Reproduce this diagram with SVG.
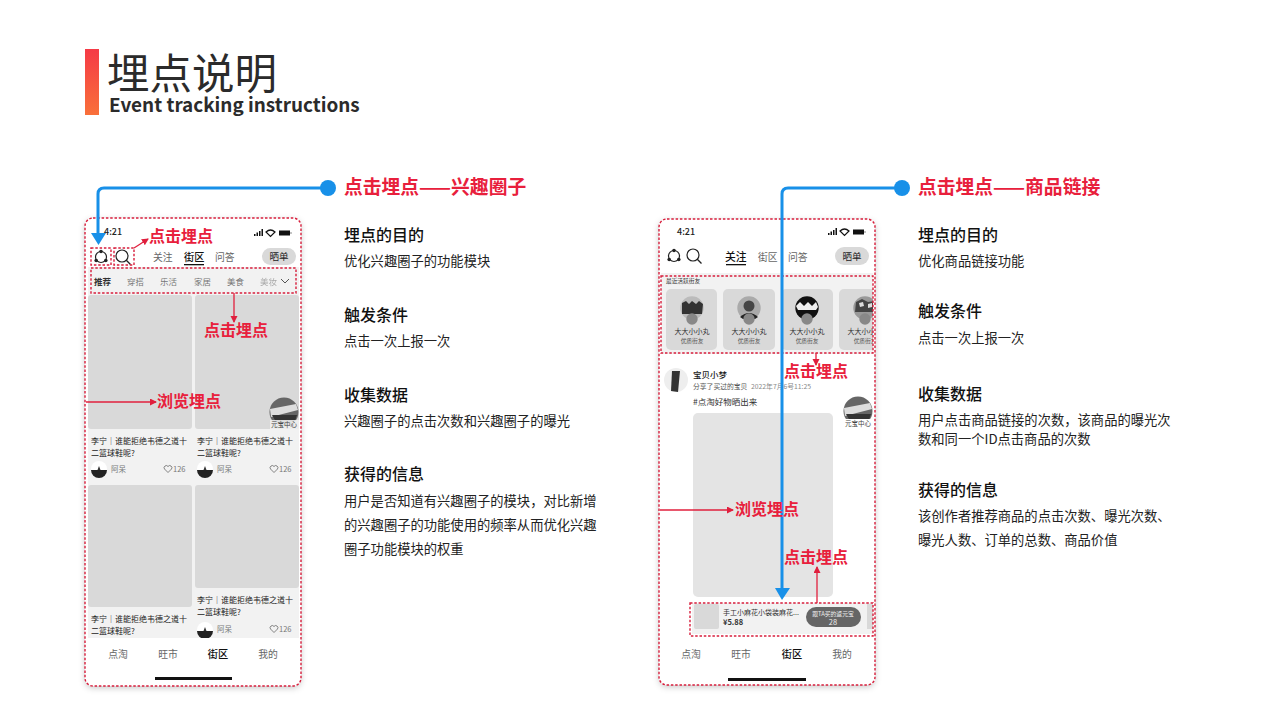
<svg xmlns="http://www.w3.org/2000/svg" width="1280" height="720" viewBox="0 0 1280 720">
<defs>
<linearGradient id="bar" x1="0" y1="0" x2="0" y2="1"><stop offset="0" stop-color="#f53a46"/><stop offset="1" stop-color="#f9703a"/></linearGradient>
<filter id="sh" x="-10%" y="-10%" width="120%" height="120%"><feDropShadow dx="0" dy="2" stdDeviation="3" flood-color="#000" flood-opacity=".22"/></filter>
<clipPath id="fc"><rect x="661" y="276" width="212" height="77"/></clipPath>
<marker id="ra" markerWidth="8" markerHeight="8" refX="6" refY="3.500" orient="auto" markerUnits="userSpaceOnUse"><path d="M0 0L7 3.500L0 7Z" fill="#e01f3d"/></marker>
<g id="ava"><circle r="8" fill="#fff"/><path d="M-8 1A8 8 0 0 0 8 1Z" fill="#222"/><path d="M-1.500 1L0 -3L1.500 1Z" fill="#333"/></g>
<g id="pic"><circle r="14.500" fill="#666"/><path d="M-14 -3L12 -8L14 -2L-13 5Z" fill="#ddd"/><path d="M-12 3L13 3L11 9L-8 10Z" fill="#333"/></g>
<g id="f1"><circle r="11.700" fill="#bbb"/><path d="M-10 -5L-6 -7L-3 -4L0 -7L4 -4L7 -7L11 -4L10 6L-10 6Z" fill="#333"/></g>
<g id="f2"><circle r="11.700" fill="#aaa"/><circle cy="-2" r="5.500" fill="#444"/><path d="M-9 9Q0 1 9 9L6 11L-6 11Z" fill="#222"/></g>
<g id="f3"><circle r="11.700" fill="#111"/><path d="M-11 -2L-7 -6L-3 -2L1 -6L5 -2L9 -6L11 -1L9 2L-9 2Z" fill="#eee"/></g>
<g id="f4"><circle r="11.700" fill="#999"/><path d="M-9 -6L-3 -9L3 -6L9 -7L10 4L-10 4Z" fill="#444"/><path d="M-6 -5L-2 -6L-1 -2L-5 -1ZM3 -4L7 -5L7 -1L3 0Z" fill="#ddd"/></g>
<g id="sig"><path d="M0 5h1.500v2H0zM2.500 3.500H4v3.500H2.500zM5 2h1.500v5H5zM7.500 0H9v7H7.500z" fill="#111"/><path d="M12 3Q16.500 -1 21 3L16.500 7.500Z" fill="none" stroke="#111" stroke-width="1.200"/><rect x="25" y="1.500" width="11" height="5" fill="#111"/><rect x="36.500" y="3" width="1" height="2" fill="#888"/></g>
<g id="hub"><circle r="5.500" fill="none" stroke="#222" stroke-width="1.200"/><circle cy="-5.500" r="1.800" fill="#222"/><circle cx="-4.800" cy="3.500" r="1.800" fill="#222"/><circle cx="4.800" cy="3.500" r="1.800" fill="#222"/></g>
<g id="mag"><circle cx="-1" cy="-1" r="6" fill="none" stroke="#222" stroke-width="1.200"/><path d="M3.300 3.300L7.500 7.500" stroke="#222" stroke-width="1.300"/></g>
<path id="heart" d="M0 3.500L-3.500 0A2 2 0 0 1 0 -2.500A2 2 0 0 1 3.500 0Z" fill="none" stroke="#666" stroke-width=".8"/>
</defs>
<style>
text{font-family:"Noto Sans CJK SC","Noto Sans",sans-serif}
.h{font-size:16px;font-weight:500;fill:#111}
.b{font-size:13.300px;fill:#222}
.rt{font-size:18.800px;font-weight:700;fill:#e8203c}
.rl{font-size:16px;font-weight:700;fill:#e8203c}
.ph{fill:#fff;filter:url(#sh)}
.dash{fill:none;stroke:#d81e3c;stroke-width:1.400;stroke-dasharray:2.500 1.800}
.g{fill:#d9d9d9}
.lg{fill:#e4e4e4}
.t{font-size:9.800px;fill:#666}
.tb{font-size:10.200px;fill:#111;font-weight:500}
.c{font-size:8.500px;fill:#777}
.ct{font-size:8px;fill:#222}
.s{font-size:7.500px;fill:#777}
.fn{font-size:7px;fill:#333;text-anchor:middle}
.fq{font-size:5.700px;fill:#555;text-anchor:middle}
.red{stroke:#e01f3d;stroke-width:1.300;fill:none;marker-end:url(#ra)}
.blue{stroke:#1890e8;stroke-width:3;fill:none}
.m{text-anchor:middle}
</style>
<rect width="1280" height="720" fill="#fff"/>
<g id="title">
<rect x="85" y="49" width="14" height="66" fill="url(#bar)"/>
<text x="107" y="89" font-size="42.500" fill="#2b2b2b">埋点说明</text>
<text x="109" y="112" font-size="18.900" font-weight="700" fill="#2b2b2b">Event tracking instructions</text>
</g>

<g id="phone-left">
<rect class="ph" x="85" y="218" width="216" height="468" rx="8"/>
<rect x="88" y="267" width="211" height="372" fill="#f2f2f2"/>
<text x="104" y="235" font-size="9" font-weight="500" fill="#222">4:21</text>
<use href="#sig" x="254" y="229"/>
<use href="#hub" x="101" y="257"/><use href="#mag" x="123" y="257"/>
<text class="t" x="153" y="261">关注</text><text class="tb" x="184" y="261">街区</text><text class="t" x="215" y="261">问答</text>
<rect x="184" y="264" width="20" height="1.300" fill="#111"/>
<rect class="g" x="262" y="248" width="34" height="17" rx="8.500"/><text x="279" y="260" font-size="9.500" class="m" fill="#222">晒单</text>
<text x="94" y="285" font-size="8.500" font-weight="700" fill="#333">推荐</text>
<text class="c" x="127" y="285">穿搭</text><text class="c" x="160" y="285">乐活</text><text class="c" x="194" y="285">家居</text><text class="c" x="227" y="285">美食</text><text class="c" x="260" y="285" opacity=".6">美妆</text>
<path d="M281 279L285 283L289 279" fill="none" stroke="#555"/>
<rect class="g" x="88" y="295" width="104" height="134" rx="3"/>
<rect class="g" x="195" y="295" width="104" height="134" rx="3"/>
<use href="#pic" x="284" y="412"/><rect x="270" y="420" width="29" height="9" fill="#eee" opacity=".9"/><text x="284" y="427" font-size="6.500" class="m" fill="#444">元宝中心</text>
<text class="ct" x="91" y="444">李宁｜谁能拒绝韦德之道十</text><text class="ct" x="91" y="456">二篮球鞋呢?</text>
<text class="ct" x="197" y="444">李宁｜谁能拒绝韦德之道十</text><text class="ct" x="197" y="456">二篮球鞋呢?</text>
<use href="#ava" x="99" y="469"/><text class="s" x="111" y="472">阿呆</text><use href="#heart" x="168" y="469"/><text class="s" x="173" y="472">126</text>
<use href="#ava" x="205" y="469"/><text class="s" x="217" y="472">阿呆</text><use href="#heart" x="274" y="469"/><text class="s" x="279" y="472">126</text>
<rect class="g" x="88" y="485" width="104" height="122" rx="3"/>
<rect class="g" x="195" y="485" width="104" height="103" rx="3"/>
<text class="ct" x="197" y="603">李宁｜谁能拒绝韦德之道十</text><text class="ct" x="197" y="615">二篮球鞋呢?</text>
<text class="ct" x="91" y="622">李宁｜谁能拒绝韦德之道十</text><text class="ct" x="91" y="634">二篮球鞋呢?</text>
<use href="#ava" x="205" y="630"/><text class="s" x="217" y="632">阿呆</text><use href="#heart" x="274" y="629"/><text class="s" x="279" y="632">126</text>
<rect x="86" y="638" width="214" height="36" fill="#fff"/>
<text class="t m" x="118" y="658">点淘</text><text class="t m" x="168" y="658">旺市</text><text class="tb m" x="218" y="658">街区</text><text class="t m" x="268" y="658">我的</text>
<rect x="155" y="677" width="77" height="3" fill="#111"/>
<rect class="dash" x="85" y="218" width="216" height="468" rx="8"/>
<rect class="dash" x="91" y="248" width="20" height="17"/>
<rect class="dash" x="114" y="248" width="20" height="17"/>
<rect class="dash" x="91" y="268" width="205" height="25"/>
</g>

<g id="phone-right">
<rect class="ph" x="659" y="219" width="216" height="466" rx="8"/>
<rect x="661" y="273" width="212" height="81" fill="#f2f2f2"/>
<text x="677" y="235" font-size="9" font-weight="500" fill="#222">4:21</text>
<use href="#sig" x="828" y="228"/>
<use href="#hub" x="674" y="256"/><use href="#mag" x="694" y="256"/>
<text class="tb" x="725" y="261" style="font-size:10.800px">关注</text><text class="t" x="758" y="261">街区</text><text class="t" x="788" y="261">问答</text>
<rect x="726" y="264" width="20" height="1.300" fill="#111"/>
<rect class="g" x="835" y="247" width="34" height="18" rx="9"/><text x="852" y="260" font-size="9.500" class="m" fill="#222">晒单</text>
<text x="666" y="283" font-size="5.700" fill="#333">最近活跃街友</text>
<g id="friends" clip-path="url(#fc)">
<rect class="g" x="666" y="289" width="51" height="61" rx="5"/><use href="#f1" x="692" y="308"/><circle cx="692" cy="319" r="5.700" fill="#888"/><text x="692" y="334" class="fn">大大小小丸</text><text x="692" y="343" class="fq">优质街友</text>
<rect class="g" x="723" y="289" width="52" height="61" rx="5"/><use href="#f2" x="749" y="308"/><circle cx="749" cy="319" r="5.700" fill="#888"/><text x="749" y="334" class="fn">大大小小丸</text><text x="749" y="343" class="fq">优质街友</text>
<rect class="g" x="781" y="289" width="52" height="61" rx="5"/><use href="#f3" x="807" y="308"/><circle cx="807" cy="319" r="5.700" fill="#888"/><text x="807" y="334" class="fn">大大小小丸</text><text x="807" y="343" class="fq">优质街友</text>
<rect class="g" x="839" y="289" width="52" height="61" rx="5"/><use href="#f4" x="865" y="308"/><circle cx="865" cy="319" r="5.700" fill="#888"/><text x="865" y="334" class="fn">大大小小丸</text><text x="865" y="343" class="fq">优质街友</text>
</g>
<circle cx="676" cy="380" r="12" fill="#eee"/><path d="M672 371L680 371L678 392L671 391Z" fill="#333"/>
<text x="693" y="378" font-size="8.500" font-weight="500" fill="#222">宝贝小梦</text>
<text x="693" y="389" font-size="6.800" fill="#555">分享了买过的宝贝</text><text x="751" y="389" font-size="6.800" fill="#888">2022年7月6号11:25</text>
<text x="693" y="405" font-size="8.500" fill="#333">#点淘好物晒出来</text>
<rect class="lg" x="693" y="413" width="140" height="184" rx="5"/>
<use href="#pic" x="858" y="411"/><rect x="843" y="419" width="30" height="9" fill="#fff"/><text x="858" y="426" font-size="6.500" class="m" fill="#444">元宝中心</text>
<rect x="692" y="603" width="181" height="31" fill="#f2f2f2"/>
<rect class="g" x="694" y="604" width="25" height="25" rx="2"/>
<text x="723" y="615" font-size="7" fill="#333">手工小麻花小袋装麻花...</text>
<text x="723" y="625" font-size="7.500" font-weight="700" fill="#333">¥5.88</text>
<rect x="806" y="607" width="55" height="20" rx="10" fill="#666"/>
<text x="833" y="616" font-size="5.800" class="m" fill="#eee">跟TA买的返元宝</text><text x="833" y="625" font-size="7.500" class="m" fill="#eee">28</text>
<rect class="g" x="867" y="604" width="6" height="25"/>
<text class="t m" x="691" y="658">点淘</text><text class="t m" x="741" y="658">旺市</text><text class="tb m" x="792" y="658">街区</text><text class="t m" x="842" y="658">我的</text>
<rect x="728" y="678" width="78" height="3" fill="#111"/>
<rect class="dash" x="659" y="219" width="216" height="466" rx="8"/>
<rect class="dash" x="661" y="276" width="212" height="77"/>
<rect class="dash" x="690" y="603" width="183" height="33"/>
</g>

<g id="connectors">
<path class="blue" d="M328 188H104Q98 188 98 194V236"/>
<path d="M91 233H106L98.500 245Z" fill="#1890e8"/><circle cx="328" cy="188" r="8" fill="#1890e8"/>
<path class="blue" d="M902 188H788Q782 188 782 194V590"/>
<path d="M775 588H790L782 600Z" fill="#1890e8"/><circle cx="902" cy="188" r="8" fill="#1890e8"/>
<path class="red" d="M134 248L148 239"/>
<path class="red" d="M234 293V322"/>
<path class="red" d="M86 402H156"/>
<path class="red" d="M816 353V365"/>
<path class="red" d="M660 510H733"/>
<path class="red" d="M817 603V567"/>
</g>
<g id="labels-left">
<text class="rl" x="149" y="242">点击埋点</text>
<text class="rl" x="204" y="336">点击埋点</text>
<text class="rl" x="157" y="407">浏览埋点</text>
<text class="rt" x="344" y="194">点击埋点——兴趣圈子</text>
<text class="h" x="344" y="241">埋点的目的</text><text class="b" x="344" y="266">优化兴趣圈子的功能模块</text>
<text class="h" x="344" y="321">触发条件</text><text class="b" x="344" y="346">点击一次上报一次</text>
<text class="h" x="344" y="401">收集数据</text><text class="b" x="344" y="426">兴趣圈子的点击次数和兴趣圈子的曝光</text>
<text class="h" x="344" y="480">获得的信息</text>
<text class="b" x="344" y="506">用户是否知道有兴趣圈子的模块，对比新增</text><text class="b" x="344" y="530">的兴趣圈子的功能使用的频率从而优化兴趣</text><text class="b" x="344" y="554">圈子功能模块的权重</text>
</g>
<g id="labels-right">
<text class="rl" x="784" y="377">点击埋点</text>
<text class="rl" x="735" y="515">浏览埋点</text>
<text class="rl" x="784" y="563">点击埋点</text>
<text class="rt" x="918" y="194">点击埋点——商品链接</text>
<text class="h" x="918" y="241">埋点的目的</text><text class="b" x="918" y="266">优化商品链接功能</text>
<text class="h" x="918" y="317">触发条件</text><text class="b" x="918" y="343">点击一次上报一次</text>
<text class="h" x="918" y="400">收集数据</text><text class="b" x="918" y="425">用户点击商品链接的次数，该商品的曝光次</text><text class="b" x="918" y="444">数和同一个ID点击商品的次数</text>
<text class="h" x="918" y="496">获得的信息</text>
<text class="b" x="918" y="521">该创作者推荐商品的点击次数、曝光次数、</text><text class="b" x="918" y="545">曝光人数、订单的总数、商品价值</text>
</g>
</svg>
